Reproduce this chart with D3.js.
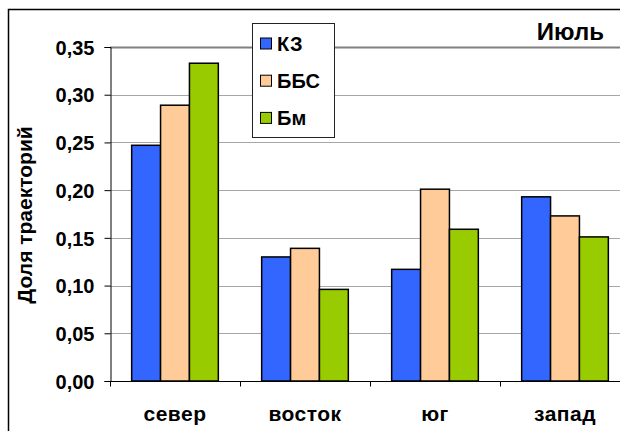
<!DOCTYPE html>
<html>
<head>
<meta charset="utf-8">
<script src="https://cdn.jsdelivr.net/npm/d3@7"></script>
<style>
  body { margin: 0; background: #fff; }
  svg { display: block; font-family: "Liberation Sans", Arial, sans-serif; font-weight: bold; }
</style>
</head>
<body>
<div id="chart"></div>
<script>
const width = 620;
const height = 431;

// Data
const categories = ["север", "восток", "юг", "запад"];
const seriesNames = ["КЗ", "ББС", "Бм"];
const kz = [0.247, 0.130, 0.117, 0.193];
const bbs = [0.289, 0.139, 0.201, 0.173];
const bm = [0.333, 0.096, 0.159, 0.151];
const colors = ["#3366FF", "#FFCC99", "#99CC00"];
const yTicks = [0, 0.05, 0.1, 0.15, 0.2, 0.25, 0.3, 0.35];

const seriesValues = [kz, bbs, bm];
const rows = categories.map((c, i) => ({
    cat: c,
    values: seriesNames.map((s, j) => ({ series: s, value: seriesValues[j][i], color: colors[j] }))
}));

const plot = { left: 110, right: 630, top: 47, bottom: 381 };

const svg = d3
    .select("#chart")
    .append("svg")
    .attr("width", width)
    .attr("height", height);

// outer chart frame (runs off the right and bottom edge)
svg.append("rect")
    .attr("x", 8.5)
    .attr("y", 9.5)
    .attr("width", 700)
    .attr("height", 500)
    .attr("fill", "#fff")
    .attr("stroke", "#000")
    .attr("stroke-width", 1.5);

const x = d3.scaleBand().domain(categories).range([plot.left, plot.right]);
const step = x.bandwidth();
const edge = step * 0.75 / 4.5; // gap width 150%
const xInner = d3.scaleBand().domain(seriesNames).range([edge, step - edge]);
const y = d3.scaleLinear().domain([0, 0.35]).range([plot.bottom, plot.top]);

// gridlines
svg.append("g")
    .selectAll("line")
    .data(yTicks.slice(1))
    .enter()
    .append("line")
    .attr("x1", plot.left)
    .attr("x2", width)
    .attr("y1", (d) => Math.round(y(d)) + 0.5)
    .attr("y2", (d) => Math.round(y(d)) + 0.5)
    .attr("stroke", (d) => (d === 0.35 ? "#808080" : "#a6a6a6"))
    .attr("stroke-width", (d) => (d === 0.35 ? 2 : 1));

// bars
svg.append("g")
    .selectAll("g")
    .data(rows)
    .enter()
    .append("g")
    .attr("transform", (d) => `translate(${x(d.cat)},0)`)
    .selectAll("rect")
    .data((d) => d.values)
    .enter()
    .append("rect")
    .attr("x", (d) => xInner(d.series))
    .attr("y", (d) => y(d.value))
    .attr("width", xInner.bandwidth())
    .attr("height", (d) => y(0) - y(d.value))
    .attr("fill", (d) => d.color)
    .attr("stroke", "#000")
    .attr("stroke-width", 1.5);

// y axis
const yAxis = svg.append("g").attr("transform", `translate(${plot.left + 0.5},0)`)
    .call(d3.axisLeft(y).tickValues(yTicks).tickSize(6).tickFormat((d) => d3.format(".2f")(d).replace(".", ",")));
yAxis.select(".domain").attr("stroke", "#000");
yAxis.selectAll(".tick line").attr("stroke", "#000");
yAxis.selectAll(".tick text")
    .attr("x", -16)
    .attr("dy", "0.36em")
    .attr("font-size", 20)
    .attr("font-family", "Liberation Sans, Arial, sans-serif")
    .attr("font-weight", "bold")
    .attr("fill", "#000");

// x axis
const xAxisG = svg.append("g").attr("transform", `translate(0,${plot.bottom + 0.5})`);
xAxisG.append("line")
    .attr("x1", plot.left)
    .attr("x2", width)
    .attr("stroke", "#000");
xAxisG.selectAll(".cat-tick")
    .data(categories)
    .enter()
    .append("line")
    .attr("x1", (d) => Math.round(x(d)) + 0.5)
    .attr("x2", (d) => Math.round(x(d)) + 0.5)
    .attr("y1", 0)
    .attr("y2", 5)
    .attr("stroke", "#000");
xAxisG.selectAll("text")
    .data(categories)
    .enter()
    .append("text")
    .attr("x", (d) => x(d) + step / 2)
    .attr("y", 39)
    .attr("text-anchor", "middle")
    .attr("font-size", 21)
    .attr("letter-spacing", 0.5)
    .text((d) => d);

// y axis title
svg.append("text")
    .attr("transform", "translate(32,215) rotate(-90)")
    .attr("text-anchor", "middle")
    .attr("font-size", 21)
    .text("Доля траекторий");

// month title
svg.append("text")
    .attr("x", 604)
    .attr("y", 40)
    .attr("text-anchor", "end")
    .attr("font-size", 24)
    .text("Июль");

// legend
const legend = svg.append("g");
legend.append("rect")
    .attr("x", 252.5)
    .attr("y", 23.5)
    .attr("width", 82)
    .attr("height", 114)
    .attr("fill", "#fff")
    .attr("stroke", "#222")
    .attr("stroke-width", 1);

const legendItem = legend.selectAll(".item")
    .data(seriesNames)
    .enter()
    .append("g")
    .attr("transform", (d, i) => `translate(0,${43.5 + i * 37.2})`);
legendItem.append("rect")
    .attr("x", 260.5)
    .attr("y", -5.5)
    .attr("width", 11)
    .attr("height", 11)
    .attr("fill", (d, i) => colors[i])
    .attr("stroke", "#000");
legendItem.append("text")
    .attr("x", 277)
    .attr("y", 7)
    .attr("font-size", 20)
    .text((d) => d);
</script>
</body>
</html>
